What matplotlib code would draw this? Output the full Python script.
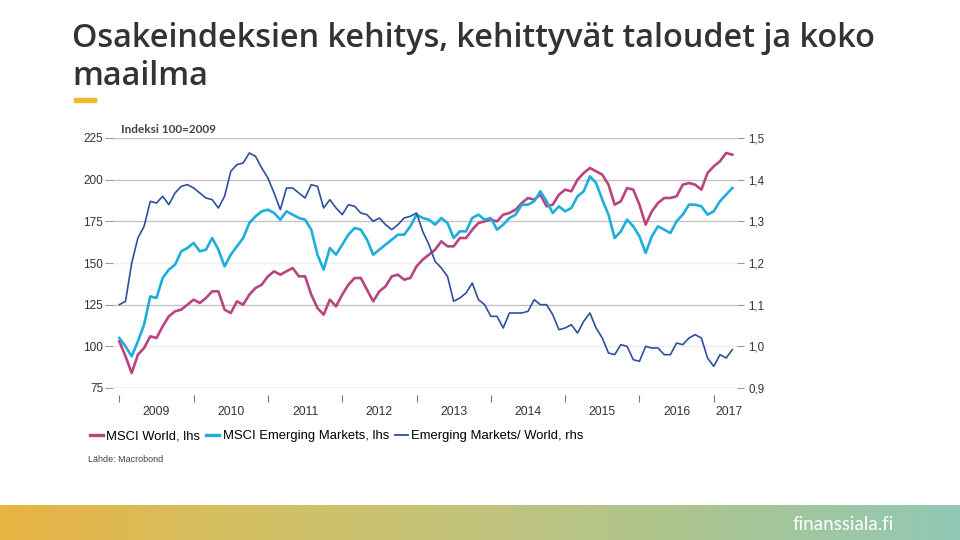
import numpy as np
import matplotlib
matplotlib.use('Agg')
import matplotlib.pyplot as plt
from matplotlib.ticker import FixedLocator, FuncFormatter
from matplotlib.colors import LinearSegmentedColormap

plt.rcParams['font.family'] = ['Liberation Sans', 'DejaVu Sans']

# kuukausittaiset arvot tammikuu 2009 - huhtikuu 2017
msci_world = [
    103, 94, 84, 95, 99, 106, 105, 112, 118, 121, 122, 125,
    128, 126, 129, 133, 133, 122, 120, 127, 125, 131, 135, 137,
    142, 145, 143, 145, 147, 142, 142, 131, 123, 119, 128, 124,
    131, 137, 141, 141, 134, 127, 133, 136, 142, 143, 140, 141,
    148, 152, 155, 158, 163, 160, 160, 165, 165, 170, 174, 175,
    176, 175, 179, 180, 182, 186, 189, 188, 191, 184, 185, 191,
    194, 193, 200, 204, 207, 205, 203, 197, 185, 187, 195, 194,
    185, 173, 181, 186, 189, 189, 190, 197, 198, 197, 194, 204,
    208, 211, 216, 215,
]
msci_em = [
    105, 100, 94, 103, 113, 130, 129, 141, 146, 149, 157, 159,
    162, 157, 158, 165, 158, 148, 155, 160, 165, 174, 178, 181,
    182, 180, 176, 181, 179, 177, 176, 170, 155, 146, 159, 155,
    161, 167, 171, 170, 164, 155, 158, 161, 164, 167, 167, 172,
    179, 177, 176, 173, 177, 174, 165, 169, 169, 177, 179, 176,
    177, 170, 173, 177, 179, 185, 185, 187, 193, 187, 180, 184,
    181, 183, 190, 193, 202, 198, 188, 179, 165, 169, 176, 172,
    166, 156, 166, 172, 170, 168, 175, 179, 185, 185, 184, 179,
    181, 187, 191, 195,
]
em_per_world = [
    1.100, 1.108, 1.200, 1.260, 1.288, 1.348, 1.344, 1.360, 1.340, 1.368, 1.384, 1.388,
    1.380, 1.368, 1.356, 1.352, 1.332, 1.360, 1.420, 1.436, 1.440, 1.464, 1.456, 1.428,
    1.404, 1.368, 1.328, 1.380, 1.380, 1.368, 1.356, 1.388, 1.384, 1.332, 1.352, 1.332,
    1.316, 1.340, 1.336, 1.320, 1.316, 1.300, 1.308, 1.292, 1.280, 1.292, 1.308, 1.312,
    1.320, 1.276, 1.244, 1.204, 1.188, 1.168, 1.108, 1.116, 1.128, 1.152, 1.112, 1.100,
    1.072, 1.072, 1.044, 1.080, 1.080, 1.080, 1.084, 1.112, 1.100, 1.100, 1.076, 1.040,
    1.044, 1.052, 1.032, 1.060, 1.080, 1.044, 1.020, 0.984, 0.980, 1.004, 1.000, 0.968,
    0.964, 1.000, 0.996, 0.996, 0.980, 0.980, 1.008, 1.004, 1.020, 1.028, 1.020, 0.972,
    0.952, 0.980, 0.972, 0.992,
]
years = [2009, 2010, 2011, 2012, 2013, 2014, 2015, 2016, 2017]
left_ticks = [75, 100, 125, 150, 175, 200, 225]
right_ticks = [0.9, 1.0, 1.1, 1.2, 1.3, 1.4, 1.5]

t = 2009 + np.arange(len(msci_world)) / 12.0

c_world = '#b8457f'
c_em = '#1eaede'
c_ratio = '#2e4f9c'

fig = plt.figure(figsize=(9.6, 5.4), dpi=100)
fig.patch.set_facecolor('white')

# otsikko
fig.text(72 / 960, 1 - 47 / 540, 'Osakeindeksien kehitys, kehittyvät taloudet ja koko',
         family='Open Sans', fontweight='semibold', fontsize=23.3, color='#333333',
         va='baseline', ha='left')
fig.text(72 / 960, 1 - 85 / 540, 'maailma',
         family='Open Sans', fontweight='semibold', fontsize=23.3, color='#333333',
         va='baseline', ha='left')
fig.patches.append(plt.Rectangle((74 / 960, 1 - 102 / 540), 22 / 960, 4 / 540,
                                 transform=fig.transFigure, color='#f2b632'))

ax = fig.add_axes([113 / 960, 1 - 388 / 540, 624 / 960, 250 / 540])
ax.set_xlim(2008.915, 2017.313)
ax.set_ylim(75, 225)
for v in left_ticks:
    c = '#eeeeee' if v in (100, 150) else '#c4c4c4'
    ax.axhline(v, color=c, lw=1, zorder=0)

ax.plot(t, msci_world, color=c_world, lw=1.9, zorder=3)
ax.plot(t, msci_em, color=c_em, lw=1.9, zorder=3)

ax2 = ax.twinx()
ax2.set_ylim(0.9, 1.5)
ax2.plot(t, em_per_world, color=c_ratio, lw=1.2)

for a in (ax, ax2):
    for s in a.spines.values():
        s.set_visible(False)

ax.set_yticks(left_ticks)
ax.tick_params(axis='y', length=6, color='#999999', labelsize=8.5,
               labelcolor='#333333', pad=1, width=0.8)
ax2.set_yticks(right_ticks)
ax2.yaxis.set_major_formatter(FuncFormatter(lambda v, p: f'{v:.1f}'.replace('.', ',')))
ax2.tick_params(axis='y', length=5, color='#999999', labelsize=8.3,
                labelcolor='#333333', pad=3, width=0.8)

ax.spines['bottom'].set_position(('outward', 5))
ax.xaxis.set_major_locator(FixedLocator([y + 0.5 for y in years[:-1]] + [2017.2]))
ax.xaxis.set_major_formatter(FuncFormatter(lambda v, p: str(int(v))))
ax.xaxis.set_minor_locator(FixedLocator(years))
ax.tick_params(axis='x', which='major', length=0, labelsize=8.8, labelcolor='#333333', pad=8)
ax.tick_params(axis='x', which='minor', length=5, color='#777777', width=0.8)

fig.text(121 / 960, 1 - 133 / 540, 'Indeksi 100=2009', family='Lato', fontweight='bold',
         fontsize=8.5, color='#444444', va='baseline', ha='left')

# selite
handles = [plt.Line2D([], [], color=c_world, lw=2.4),
           plt.Line2D([], [], color=c_em, lw=2.4),
           plt.Line2D([], [], color=c_ratio, lw=1.3)]
labels = ['MSCI World, lhs', 'MSCI Emerging Markets, lhs', 'Emerging Markets/ World, rhs']
fig.legend(handles, labels, loc='center left', bbox_to_anchor=(90 / 960, 1 - 436 / 540),
           ncol=3, frameon=False, handlelength=1.0, handletextpad=0.25,
           columnspacing=0.45, borderaxespad=0, borderpad=0,
           prop={'family': 'Liberation Sans', 'size': 9.4})
fig.text(88 / 960, 1 - 460 / 540, 'Lähde: Macrobond', family='Liberation Sans',
         fontsize=6.5, color='#444444', va='center', ha='left')

# alapalkki
fax = fig.add_axes([0, 0, 1, 35 / 540])
cmap = LinearSegmentedColormap.from_list('band', ['#e8b443', '#d4bf62', '#c2c37c', '#a9c693', '#92c8b6'])
fax.imshow(np.linspace(0, 1, 256)[None, :], aspect='auto', cmap=cmap, extent=(0, 1, 0, 1))
fax.set_xlim(0, 1)
fax.set_ylim(0, 1)
fax.axis('off')
fax.text(894 / 960, 0.45, 'finanssiala.fi', color='white', family='Lato', fontsize=13.5,
         ha='right', va='center')

fig.savefig('out.png', dpi=100)
